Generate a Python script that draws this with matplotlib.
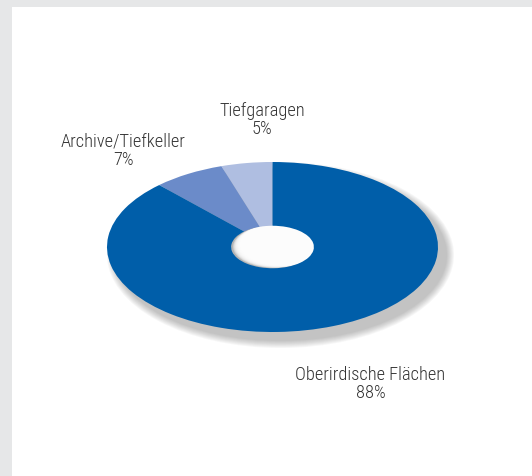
import matplotlib
matplotlib.use("Agg")
import matplotlib.pyplot as plt
from matplotlib.patches import Ellipse, Rectangle

# data (counterclockwise from 12 o'clock)
labels = ["Tiefgaragen", "Archive/Tiefkeller", "Oberirdische Flächen"]
shares = [5, 7, 88]
colors = ["#afbee1", "#6b8bc9", "#005ea9"]

W, H = 532, 477
fig = plt.figure(figsize=(W / 100, H / 100), dpi=100)
fig.patch.set_facecolor("white")

# gray frame strips (top and left)
bg = fig.add_axes([0, 0, 1, 1])
bg.set_xlim(0, W)
bg.set_ylim(H, 0)
bg.axis("off")
bg.add_patch(Rectangle((0, 0), W, 8, color="#e6e7e8", lw=0))
bg.add_patch(Rectangle((0, 0), 12, H, color="#e6e7e8", lw=0))

# pie axes sized to the ellipse bounding box -> tilted look
cx, cy, rx, ry = 272.5, 248, 165.5, 85
ax = fig.add_axes([(cx - rx) / W, 1 - (cy + ry) / H, 2 * rx / W, 2 * ry / H])
ax.axis("off")

# soft drop shadow, down-right
for i in range(8):
    g = 8 - i
    ax.add_patch(Ellipse((8 / rx, -8 / ry), 2 + 2 * g / rx, 2 + 2 * g / ry,
                         color="#404040", alpha=0.045, lw=0, clip_on=False, zorder=0))

wedges, _ = ax.pie(shares, colors=colors, startangle=90, counterclock=True,
                   radius=1, wedgeprops=dict(width=0.75, linewidth=0))
for w in wedges:
    w.set_zorder(2)

# hole with inner shading on the left
hole = Ellipse((0, 0), 0.51, 0.51, color="#b4b4b4", lw=0, zorder=1.5)
ax.add_patch(hole)
for i in range(8):
    e = Ellipse((0.012 + i * 0.006, 0.004 + i * 0.004), 0.5, 0.5, color="white",
                alpha=0.4, lw=0, zorder=1.6)
    ax.add_patch(e)
    e.set_clip_path(hole)
ax.set_aspect("auto")
ax.set_xlim(-1, 1)
ax.set_ylim(-1, 1)

fam = ["Roboto Condensed", "DejaVu Sans"]
txt = dict(ha="center", va="baseline", fontsize=13.2, color="#333333",
           family=fam, fontweight="light")


def label(x, y, s):
    fig.text(x / W, 1 - y / H, s, **txt)


label(262, 116, labels[0])
label(262, 134, f"{shares[0]}%")
label(123.5, 147, labels[1])
label(123.5, 165, f"{shares[1]}%")
label(370.5, 380, labels[2])
label(370.5, 398, f"{shares[2]}%")

fig.savefig("out.png", dpi=100)
